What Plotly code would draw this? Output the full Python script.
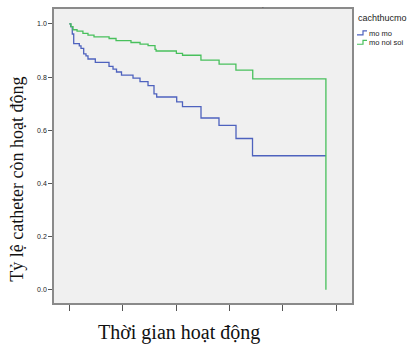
import plotly.graph_objects as go

# Kaplan-Meier style survival steps (x in arbitrary time units, ticks every 20)
mo_mo_time = [0, 0.52, 1.12, 1.65, 3.75, 4.38, 5.39, 6.25, 7.0, 9.74, 14.87, 16.37,
              17.68, 19.55, 23.86, 26.48, 29.48, 31.72, 32.73, 40.22, 42.39, 49.32,
              56.06, 62.43, 68.61, 96.1]
mo_mo_surv = [1.0, 0.99, 0.962, 0.926, 0.917, 0.908, 0.887, 0.880, 0.868, 0.855, 0.840, 0.830,
              0.819, 0.807, 0.796, 0.783, 0.768, 0.737, 0.725, 0.707, 0.689, 0.646,
              0.618, 0.569, 0.504, 0.504]

noi_soi_time = [0, 0.64, 1.4, 2.9, 5.1, 7.0, 9.25, 14.9, 17.5, 23.1, 26.5, 29.5, 32.1,
                32.5, 40.1, 42.4, 49.3, 56.1, 62.4, 68.7, 96.1]
noi_soi_surv = [1.0, 0.99, 0.978, 0.973, 0.964, 0.958, 0.951, 0.945, 0.937, 0.930, 0.924,
                0.918, 0.904, 0.898, 0.889, 0.882, 0.864, 0.849, 0.826, 0.793, 0.0]

x_ticks = [0, 20, 40, 60, 80, 100]
y_ticks = [0.0, 0.2, 0.4, 0.6, 0.8, 1.0]
y_tick_labels = ["0.0", "0.2", "0.4", "0.6", "0.8", "1.0"]

legend_title = "cachthucmo"
series_names = ["mo mo", "mo noi soi"]
colors = ["rgb(78,98,190)", "rgb(72,192,92)"]

W, H = 408, 345
L, R, T, B = 54, 352, 7, 303


def px(x):
    return (x - L) / (R - L)


def py(y):
    return (B - y) / (B - T)


fig = go.Figure()
fig.add_trace(go.Scatter(x=mo_mo_time, y=mo_mo_surv, mode="lines", line_shape="hv",
                         line=dict(color=colors[0], width=1.3), name=series_names[0],
                         showlegend=False))
fig.add_trace(go.Scatter(x=noi_soi_time, y=noi_soi_surv, mode="lines", line_shape="hv",
                         line=dict(color=colors[1], width=1.3), name=series_names[1],
                         showlegend=False))

axis_col = "#8a8a8a"
fig.update_layout(
    width=W, height=H,
    margin=dict(l=L, r=W - R, t=T, b=H - B),
    paper_bgcolor="white",
    plot_bgcolor="#f0f0f0",
    xaxis=dict(range=[-5.73, 105.87], tickvals=x_ticks, showticklabels=False,
               ticks="outside", ticklen=6, tickcolor="#555", tickwidth=1,
               showline=True, linecolor=axis_col, linewidth=1.5, mirror=True,
               showgrid=False, zeroline=False, fixedrange=True),
    yaxis=dict(range=[-0.0497, 1.056], tickvals=y_ticks, ticktext=y_tick_labels,
               ticks="outside", ticklen=4, tickcolor="#555", tickwidth=1,
               tickfont=dict(family="Liberation Sans, Arial", size=7, color="#222"),
               showline=True, linecolor=axis_col, linewidth=1.5, mirror=True,
               showgrid=False, zeroline=False, fixedrange=True),
    showlegend=False,
)

serif = "Liberation Serif, Times New Roman, serif"
ann = [
    dict(text="Thời gian hoạt động", x=px(179), y=py(333), xref="paper", yref="paper",
         xanchor="center", yanchor="middle", showarrow=False,
         font=dict(family=serif, size=20, color="#111")),
    dict(text="Tỷ lệ catheter còn hoạt động", x=px(17), y=py(179), xref="paper", yref="paper",
         xanchor="center", yanchor="middle", textangle=-90, showarrow=False,
         font=dict(family=serif, size=18, color="#111")),
    dict(text=legend_title, x=px(356), y=py(16.5), xref="paper", yref="paper",
         xanchor="left", yanchor="middle", showarrow=False,
         font=dict(family="Liberation Sans, Arial", size=9, color="#222")),
    dict(text=series_names[0], x=px(367), y=py(31.5), xref="paper", yref="paper",
         xanchor="left", yanchor="middle", showarrow=False,
         font=dict(family="Liberation Sans, Arial", size=7.5, color="#222")),
    dict(text=series_names[1], x=px(367), y=py(41), xref="paper", yref="paper",
         xanchor="left", yanchor="middle", showarrow=False,
         font=dict(family="Liberation Sans, Arial", size=7.5, color="#222")),
    dict(text=".", x=px(263), y=py(9), xref="paper", yref="paper",
         xanchor="center", yanchor="bottom", showarrow=False,
         font=dict(family="Liberation Sans, Arial", size=6, color="#111")),
]
fig.update_layout(annotations=ann)

shapes = []
for i, (lo, hi) in enumerate([(33, 29), (42.5, 38.5)]):
    path = (f"M {px(357)} {py(lo)} L {px(363)} {py(lo)} L {px(363)} {py(hi)} "
            f"L {px(367)} {py(hi)}")
    shapes.append(dict(type="path", path=path, xref="paper", yref="paper",
                       line=dict(color=colors[i], width=1.2)))
fig.update_layout(shapes=shapes)

fig.write_html("out.html", config={"displayModeBar": False})
